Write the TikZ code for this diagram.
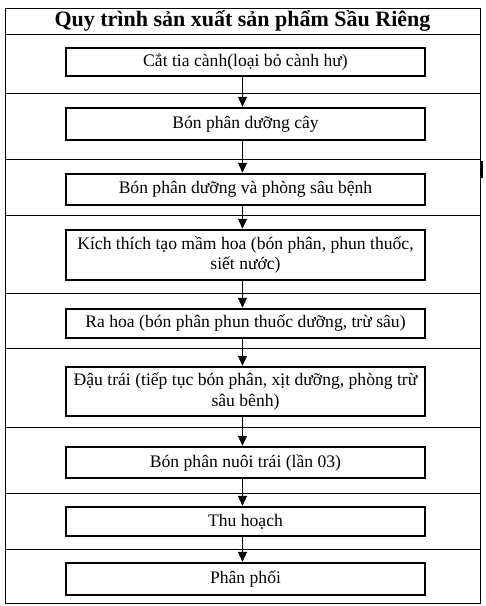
\documentclass[tikz,border=0pt]{standalone}
\usepackage{fontspec}
\setmainfont{Liberation Serif}
\usetikzlibrary{arrows.meta}
\begin{document}
\begin{tikzpicture}[x=1pt,y=-1pt,
  frame/.style={line width=0.9pt},
  stepbox/.style={draw, line width=2.5pt, minimum width=359pt, inner sep=0pt, align=center,
    font=\fontsize{17.6}{20.5}\selectfont},
  flow/.style={line width=0.9pt, -{Triangle[width=9pt,length=10pt]}}]
\useasboundingbox (0,0) rectangle (486,606);
% frame and rows
\draw[frame] (5,8) rectangle (480,603);
\foreach \yy in {34,93,159,215,293,348,427,493,549}
  \draw[frame] (5,\yy) -- (480,\yy);
\draw[line width=2pt] (482,161) -- (482,178);
% title
\node[font=\bfseries\fontsize{22}{24}\selectfont] (title) at (242.5,21) {Quy trình sản xuất sản phẩm Sầu Riêng};
% boxes
\node[stepbox, minimum height=28pt] (b1) at (245.5,62) {Cắt tia cành(loại bỏ cành hư)};
\node[stepbox, minimum height=32pt] (b2) at (245.5,124) {Bón phân dưỡng cây};
\node[stepbox, minimum height=31pt] (b3) at (245.5,189.5) {Bón phân dưỡng và phòng sâu bệnh};
\node[stepbox, minimum height=50pt] (b4) at (245.5,255) {Kích thích tạo mầm hoa (bón phân, phun thuốc,\\ siết nước)};
\node[stepbox, minimum height=29pt] (b5) at (245.5,323.5) {Ra hoa (bón phân phun thuốc dưỡng, trừ sâu)};
\node[stepbox, minimum height=49pt] (b6) at (245.5,391.5) {Đậu trái (tiếp tục bón phân, xịt dưỡng, phòng trừ\\ sâu bênh)};
\node[stepbox, minimum height=31pt] (b7) at (245.5,462.5) {Bón phân nuôi trái (lần 03)};
\node[stepbox, minimum height=29pt] (b8) at (245.5,521.5) {Thu hoạch};
\node[stepbox, minimum height=32pt] (b9) at (245.5,579) {Phân phối};
% arrows
\coordinate (ax) at (242.5,0);
\foreach \a/\b in {b1/b2,b2/b3,b3/b4,b4/b5,b5/b6,b6/b7,b7/b8,b8/b9}
  \draw[flow] (\a.south -| ax) -- (\b.north -| ax);
\end{tikzpicture}
\end{document}
